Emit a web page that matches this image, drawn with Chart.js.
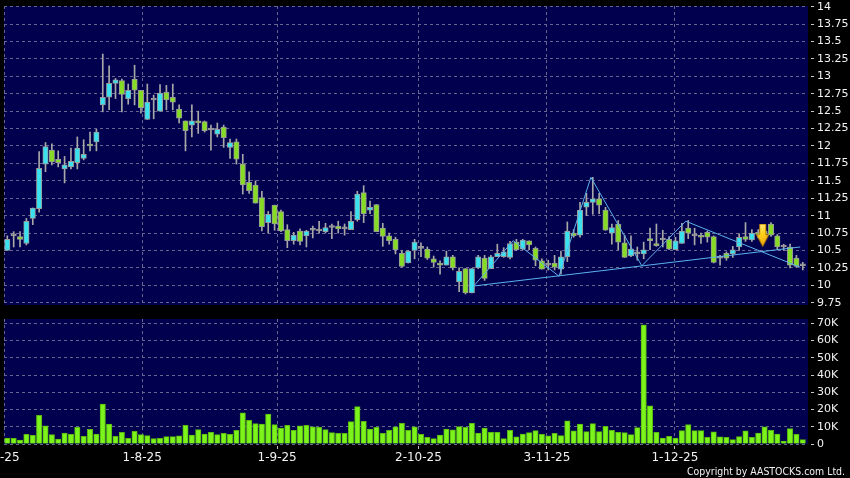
<!DOCTYPE html>
<html>
<head>
<meta charset="utf-8">
<script src="https://cdn.jsdelivr.net/npm/chart.js@4.4.1/dist/chart.umd.min.js"></script>
<style>
    html, body { margin: 0; padding: 0; background: #000; }
    #wrap { position: relative; width: 850px; height: 478px; overflow: hidden; }
    #wrap canvas { position: absolute; left: 0; top: 0; }
</style>
</head>
<body>
<div id="wrap">
    <canvas id="priceChart" width="850" height="478"></canvas>
    <canvas id="volChart" width="850" height="478"></canvas>
</div>
<script>
// daily candles, index 0 = first visible trading day
const opens = [10.50, 10.71, 10.70, 10.60, 10.96, 11.10, 11.74, 11.94, 11.81, 11.67,
    11.70, 11.76, 11.82, 12.02, 12.06, 12.59, 12.70, 12.90, 12.94, 12.68,
    12.96, 12.80, 12.38, 12.66, 12.50, 12.77, 12.70, 12.53, 12.36, 12.30,
    12.36, 12.35, 12.23, 12.17, 12.27, 11.98, 12.06, 11.74, 11.48, 11.44,
    11.26, 10.90, 11.15, 11.06, 10.80, 10.64, 10.78, 10.71, 10.79, 10.78,
    10.77, 10.83, 10.85, 10.81, 10.80, 10.94, 11.33, 11.08, 11.16, 10.82,
    10.71, 10.66, 10.46, 10.32, 10.50, 10.53, 10.52, 10.38, 10.32, 10.29,
    10.41, 10.05, 10.24, 9.89, 10.25, 10.39, 10.24, 10.41, 10.41, 10.40,
    10.62, 10.52, 10.64, 10.53, 10.35, 10.29, 10.32, 10.23, 10.41, 10.75,
    10.72, 11.12, 11.19, 11.24, 11.08, 10.75, 10.88, 10.61, 10.42, 10.45,
    10.45, 10.67, 10.60, 10.65, 10.66, 10.51, 10.60, 10.82, 10.71, 10.71,
    10.76, 10.70, 10.39, 10.46, 10.45, 10.55, 10.70, 10.65, 10.76, 10.78,
    10.88, 10.71, 10.55, 10.55, 10.39, 10.28];
const highs = [10.71, 10.77, 10.77, 10.96, 11.11, 11.92, 12.05, 12.03, 11.93, 11.85,
    11.97, 12.13, 12.09, 12.20, 12.24, 13.32, 13.15, 12.97, 12.96, 12.89,
    13.16, 12.80, 12.89, 12.73, 12.88, 12.87, 12.89, 12.59, 12.36, 12.59,
    12.50, 12.36, 12.30, 12.33, 12.30, 12.10, 12.10, 11.88, 11.63, 11.50,
    11.35, 11.06, 11.15, 11.08, 10.87, 10.76, 10.81, 10.79, 10.85, 10.92,
    10.89, 10.88, 10.92, 10.88, 11.06, 11.35, 11.43, 11.21, 11.16, 10.89,
    10.75, 10.69, 10.50, 10.50, 10.66, 10.61, 10.55, 10.42, 10.35, 10.49,
    10.43, 10.25, 10.24, 10.24, 10.43, 10.43, 10.43, 10.59, 10.54, 10.63,
    10.66, 10.66, 10.64, 10.55, 10.38, 10.36, 10.43, 10.49, 10.91, 10.80,
    11.19, 11.32, 11.55, 11.32, 11.12, 10.88, 10.93, 10.72, 10.71, 10.55,
    10.62, 10.82, 10.88, 10.79, 10.70, 10.69, 10.89, 10.93, 10.82, 10.75,
    10.78, 10.71, 10.43, 10.48, 10.56, 10.74, 10.90, 10.80, 10.80, 10.85,
    10.90, 10.73, 10.59, 10.59, 10.43, 10.33];
const lows = [10.50, 10.55, 10.55, 10.58, 10.87, 11.05, 11.63, 11.73, 11.70, 11.47,
    11.67, 11.67, 11.80, 11.93, 11.93, 12.49, 12.52, 12.68, 12.49, 12.60,
    12.59, 12.47, 12.38, 12.39, 12.50, 12.52, 12.52, 12.33, 11.93, 12.13,
    12.18, 12.20, 11.94, 12.13, 11.98, 11.82, 11.74, 11.31, 11.32, 11.18,
    10.78, 10.75, 10.79, 10.77, 10.54, 10.59, 10.58, 10.55, 10.68, 10.75,
    10.75, 10.67, 10.75, 10.72, 10.80, 10.92, 10.90, 11.03, 10.77, 10.56,
    10.59, 10.45, 10.26, 10.32, 10.38, 10.41, 10.37, 10.26, 10.16, 10.29,
    10.22, 9.91, 9.875, 9.89, 10.24, 10.07, 10.24, 10.41, 10.40, 10.38,
    10.50, 10.51, 10.51, 10.28, 10.23, 10.22, 10.22, 10.16, 10.34, 10.69,
    10.69, 11.00, 11.02, 11.03, 10.79, 10.59, 10.51, 10.40, 10.41, 10.36,
    10.38, 10.51, 10.56, 10.55, 10.51, 10.51, 10.60, 10.67, 10.58, 10.60,
    10.62, 10.32, 10.29, 10.36, 10.40, 10.50, 10.63, 10.63, 10.68, 10.70,
    10.70, 10.51, 10.50, 10.25, 10.26, 10.22];
const closes = [10.66, 10.71, 10.66, 10.92, 11.11, 11.68, 11.99, 11.77, 11.76, 11.73,
    11.78, 11.97, 11.88, 12.00, 12.20, 12.70, 12.90, 12.95, 12.74, 12.80,
    12.80, 12.55, 12.63, 12.66, 12.76, 12.66, 12.63, 12.40, 12.22, 12.36,
    12.33, 12.22, 12.23, 12.24, 12.12, 12.05, 11.81, 11.44, 11.36, 11.18,
    10.84, 11.02, 10.88, 10.78, 10.64, 10.72, 10.63, 10.78, 10.79, 10.78,
    10.83, 10.83, 10.81, 10.81, 10.92, 11.31, 11.03, 11.12, 10.77, 10.70,
    10.64, 10.51, 10.27, 10.49, 10.62, 10.53, 10.39, 10.33, 10.29, 10.41,
    10.25, 10.20, 9.89, 10.24, 10.41, 10.10, 10.41, 10.46, 10.48, 10.60,
    10.51, 10.65, 10.58, 10.36, 10.23, 10.29, 10.26, 10.41, 10.78, 10.71,
    11.08, 11.19, 11.24, 11.15, 10.79, 10.83, 10.62, 10.40, 10.52, 10.45,
    10.51, 10.64, 10.57, 10.65, 10.52, 10.64, 10.78, 10.75, 10.71, 10.69,
    10.69, 10.33, 10.39, 10.39, 10.51, 10.69, 10.66, 10.75, 10.73, 10.74,
    10.72, 10.55, 10.55, 10.29, 10.27, 10.28];
// volume in thousands of shares
const volumes = [3.5, 3.3, 2.3, 5.6, 5.0, 16.7, 10.5, 5.4, 2.9, 6.4,
    5.6, 9.7, 4.5, 8.5, 5.8, 23.1, 11.5, 4.5, 6.8, 3.3,
    7.4, 5.4, 4.9, 3.1, 3.3, 4.3, 4.3, 4.7, 10.9, 5.2,
    8.3, 5.8, 6.8, 5.4, 6.2, 5.6, 8.0, 18.1, 13.8, 11.8,
    11.5, 17.3, 11.3, 9.3, 10.9, 8.0, 10.5, 10.9, 9.9, 9.7,
    8.3, 6.6, 6.2, 6.2, 13.0, 21.7, 13.2, 8.7, 9.7, 6.2,
    8.0, 9.9, 12.0, 8.0, 9.9, 5.6, 3.9, 3.1, 5.2, 8.7,
    8.2, 10.1, 9.7, 12.0, 6.4, 9.3, 6.8, 6.8, 3.1, 8.0,
    4.1, 5.8, 6.6, 7.8, 5.6, 4.7, 6.2, 4.9, 13.4, 7.6,
    11.5, 7.2, 11.8, 7.2, 10.3, 8.0, 6.8, 6.6, 5.4, 9.5,
    69.1, 22.1, 6.8, 3.5, 4.5, 3.5, 7.8, 11.3, 7.8, 7.8,
    3.9, 7.0, 4.1, 3.9, 2.5, 4.3, 7.6, 3.9, 6.4, 9.9,
    8.0, 5.8, 1.7, 8.9, 5.6, 2.5];

// axis ticks
const priceTicks = [9.75, 10, 10.25, 10.5, 10.75, 11, 11.25, 11.5, 11.75, 12,
    12.25, 12.5, 12.75, 13, 13.25, 13.5, 13.75, 14];
const volTicks = [0, 10, 20, 30, 40, 50, 60, 70];
const dateLabels = ['2-7-25', '1-8-25', '1-9-25', '2-10-25', '3-11-25', '1-12-25'];
const datePos = [-1.15, 21.2, 42.4, 64.6, 84.8, 104.9];

// pattern lines drawn on the price panel (x = day index)
const zigzagX = [73.3, 79.5, 86.7, 91.7, 99.7, 106.6, 124.6];
const zigzagY = [9.99, 10.64, 10.13, 11.55, 10.28, 10.92, 10.26];
const supportX = [73.3, 124.6];
const supportY = [9.99, 10.55];
// sell signal arrow
const signalX = [118.7];
const signalY = [10.72];

const xMin = -0.52, xMax = 125.82;
const NAVY = '#00004f';
const GRID = '#66668f';
const UP = '#3ae2f0';
const DOWN = '#86dc24';
const EDGE = '#9a9a9a';
const WICK = '#a8a8a8';
const TREND = '#5cb2ec';
const VOL = '#7cf41c';
const VOL_EDGE = '#58b80e';
const CLEAR = 'rgba(0,0,0,0)';

Chart.defaults.font.family = 'DejaVu Sans';

const idx = opens.map((_, i) => i);

const plotBg = {
    id: 'plotBg',
    beforeDraw(chart) {
        const { ctx, chartArea: a } = chart;
        ctx.save();
        ctx.fillStyle = NAVY;
        ctx.fillRect(a.left, a.top, a.right - a.left, a.bottom - a.top);
        ctx.restore();
    },
};

function makeArrow() {
    const c = document.createElement('canvas');
    c.width = 13;
    c.height = 23;
    const g = c.getContext('2d');
    const grad = g.createLinearGradient(0, 0, 13, 23);
    grad.addColorStop(0, '#fff39a');
    grad.addColorStop(0.45, '#ffd21c');
    grad.addColorStop(1, '#e89800');
    g.fillStyle = grad;
    g.beginPath();
    g.moveTo(3.5, 0.5);
    g.lineTo(9.5, 0.5);
    g.lineTo(9.5, 11);
    g.lineTo(12.5, 11);
    g.lineTo(6.5, 22.5);
    g.lineTo(0.5, 11);
    g.lineTo(3.5, 11);
    g.closePath();
    g.fill();
    g.strokeStyle = '#c88a00';
    g.lineWidth = 1;
    g.stroke();
    return c;
}

function xAxis(showLabels) {
    return {
        type: 'linear',
        min: xMin,
        max: xMax,
        offset: false,
        afterBuildTicks: s => { s.ticks = [xMin, ...datePos].map(v => ({ value: v })); },
        afterFit: s => { s.height = showLabels ? 34 : 0; s.paddingLeft = 0; s.paddingRight = 0; },
        grid: {
            offset: false,
            drawTicks: showLabels,
            tickLength: 5,
            color: c => (c.tick && c.tick.value < xMin) ? CLEAR : GRID,
            tickColor: c => (c.tick && c.tick.value === xMin) ? CLEAR : '#c0c0c0',
            tickBorderDash: [0, 2, 3, 10],
        },
        border: { display: false, dash: [3, 3] },
        ticks: {
            display: showLabels,
            autoSkip: false,
            maxRotation: 0,
            padding: 2,
            color: '#f2f2f2',
            font: { size: 12 },
            callback: v => {
                const k = datePos.indexOf(v);
                return k >= 0 ? dateLabels[k] : '';
            },
        },
    };
}

function yAxis(min, max, tickList, fmt) {
    return {
        position: 'right',
        min: min,
        max: max,
        afterBuildTicks: s => { s.ticks = tickList.map(v => ({ value: v })); },
        afterFit: s => { s.width = 42; s.paddingTop = 0; s.paddingBottom = 0; },
        grid: { color: GRID, tickLength: 7, tickColor: '#c8c8c8', tickBorderDash: [0, 3, 3, 20] },
        border: { display: false, dash: [3, 3] },
        ticks: { autoSkip: false, padding: 2, color: '#f2f2f2', font: { size: 11 }, callback: fmt },
    };
}

const common = {
    responsive: false,
    animation: false,
    devicePixelRatio: 1,
    events: [],
    plugins: { legend: { display: false }, tooltip: { enabled: false } },
};

// price panel
new Chart(document.getElementById('priceChart'), {
    type: 'bar',
    data: {
        datasets: [
            {
                data: idx.map(i => ({ x: i, y: [lows[i], highs[i]] })),
                backgroundColor: WICK,
                barThickness: 1,
                grouped: false,
                order: 3,
            },
            {
                data: idx.map(i => ({ x: i, y: [opens[i], closes[i]] })),
                backgroundColor: idx.map(i => closes[i] > opens[i] ? UP : closes[i] < opens[i] ? DOWN : EDGE),
                borderColor: EDGE,
                borderWidth: 1,
                borderSkipped: false,
                barThickness: 5.4,
                minBarLength: 2,
                grouped: false,
                order: 2,
            },
            {
                type: 'line',
                data: zigzagX.map((x, k) => ({ x: x, y: zigzagY[k] })),
                borderColor: TREND,
                borderWidth: 1,
                pointRadius: 0,
                order: 1,
            },
            {
                type: 'line',
                data: supportX.map((x, k) => ({ x: x, y: supportY[k] })),
                borderColor: TREND,
                borderWidth: 1,
                pointRadius: 0,
                order: 1,
            },
            {
                type: 'line',
                showLine: false,
                data: signalX.map((x, k) => ({ x: x, y: signalY[k] })),
                pointStyle: makeArrow(),
                pointRadius: 10,
                order: 0,
            },
        ],
    },
    options: {
        ...common,
        layout: { autoPadding: false, padding: { left: 4, top: 6, right: 0, bottom: 173 } },
        scales: {
            x: xAxis(false),
            y: yAxis(9.717, 14.01, priceTicks, v => String(+v.toFixed(2))),
        },
    },
    plugins: [plotBg],
});

// volume panel
new Chart(document.getElementById('volChart'), {
    type: 'bar',
    data: {
        datasets: [{
            data: idx.map(i => ({ x: i, y: volumes[i] })),
            backgroundColor: VOL,
            borderColor: VOL_EDGE,
            borderWidth: 1,
            borderSkipped: 'start',
            barThickness: 5.4,
            grouped: false,
        }],
    },
    options: {
        ...common,
        layout: { autoPadding: false, padding: { left: 4, top: 319, right: 0, bottom: 0 } },
        scales: {
            x: xAxis(true),
            y: yAxis(0, 72.5, volTicks, v => v === 0 ? '0' : v + 'K'),
        },
    },
    plugins: [plotBg, {
        id: 'copyright',
        afterDraw(chart) {
            // the source uses a narrow face, so squeeze the text to the same width
            const ctx = chart.ctx;
            const text = 'Copyright by AASTOCKS.com Ltd.';
            ctx.save();
            ctx.font = '11px "DejaVu Sans"';
            const w = ctx.measureText(text).width;
            ctx.translate(845, 475);
            ctx.scale(Math.min(1, 158 / w), 1);
            ctx.fillStyle = '#f2f2f2';
            ctx.textAlign = 'right';
            ctx.textBaseline = 'alphabetic';
            ctx.fillText(text, 0, 0);
            ctx.restore();
        },
    }],
});
</script>
</body>
</html>
